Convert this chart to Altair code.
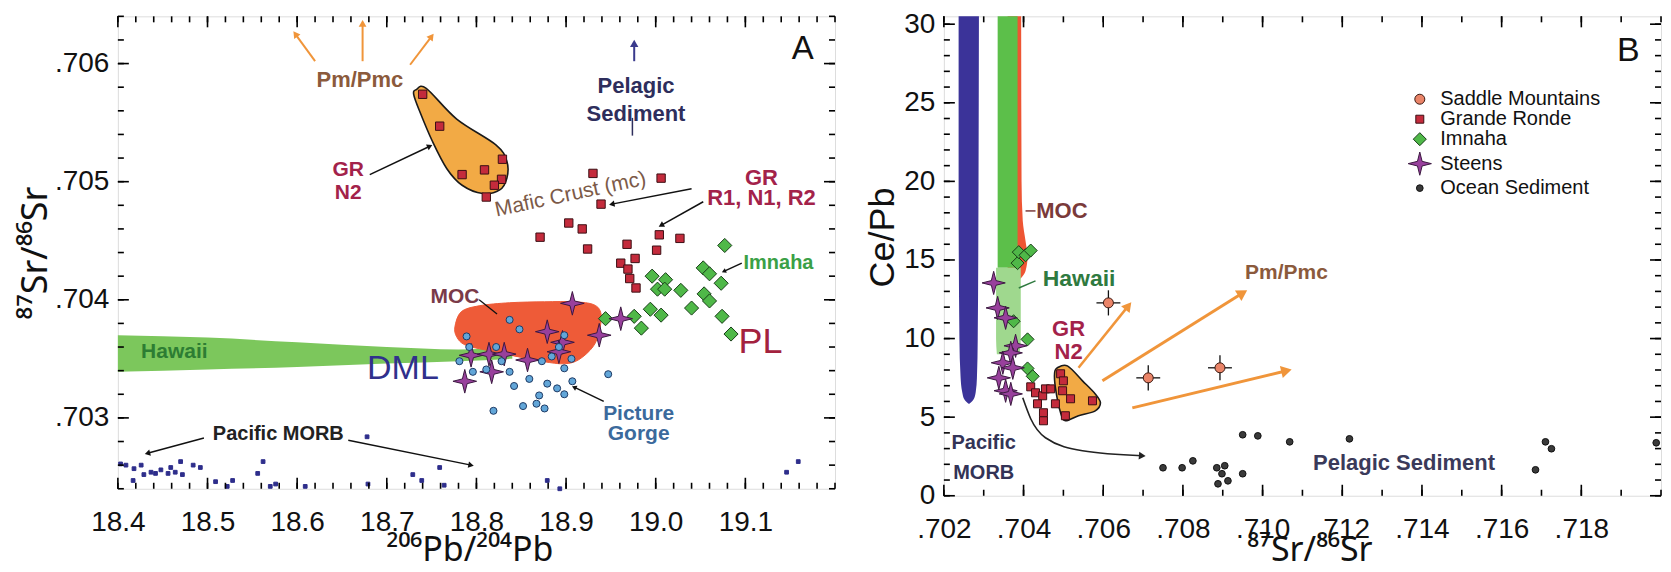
import math
import altair as alt
import pandas as pd

FONT = "Liberation Sans"
SUPFONT = "Noto Sans"
W, HA, HB = 718, 473, 480
AXD, AYD = [18.4, 19.2], [0.7024, 0.7064]
BXD, BYD = [0.702, 0.720], [0.0, 30.5]
STAR = "M0,-1L0.2,-0.2L1,0L0.2,0.2L0,1L-0.2,0.2L-1,0L-0.2,-0.2Z"

# ================= Panel A data =================
grA_x = [18.740, 18.759, 18.829, 18.809, 18.784, 18.828, 18.820, 18.811,
         18.930, 19.006, 18.939, 18.903, 18.918, 18.871, 18.924, 18.968,
         19.004, 19.027, 19.001, 18.961, 18.977, 18.969, 18.971, 18.978]
grA_y = [0.70574, 0.70547, 0.70519, 0.70510, 0.70506, 0.70502, 0.70497, 0.70487,
         0.70507, 0.70503, 0.70481, 0.70465, 0.70460, 0.70453, 0.70443, 0.70447,
         0.70455, 0.70452, 0.70442, 0.70431, 0.70435, 0.70426, 0.70418, 0.70410]
imA_x = [19.077, 19.053, 19.060, 19.073, 18.996, 19.011, 19.002, 19.010, 19.028, 19.054,
         19.060, 19.040, 18.994, 19.006, 18.976, 18.984, 18.944, 19.074, 19.084]
imA_y = [0.70446, 0.70427, 0.70422, 0.70414, 0.70420, 0.70417, 0.70409, 0.70409, 0.70408, 0.70405,
         0.70399, 0.70393, 0.70392, 0.70387, 0.70386, 0.70376, 0.70384, 0.70386, 0.70371]
stA_x = [18.907, 18.879, 18.896, 18.937, 18.961, 18.794, 18.814, 18.831, 18.857, 18.817, 18.787, 18.892]
stA_y = [0.70397, 0.70373, 0.70364, 0.70370, 0.70384, 0.70353, 0.70354, 0.70354, 0.70349, 0.70339, 0.70331, 0.70356]
pgA_x = [18.837, 18.848, 18.789, 18.781, 18.796, 18.811, 18.837, 18.859, 18.873, 18.884,
         18.898, 18.892, 18.906, 18.898, 18.947, 18.842, 18.879, 18.890, 18.898, 18.907,
         18.870, 18.876, 18.852, 18.819, 18.867, 18.792, 18.822, 18.828]
pgA_y = [0.70383, 0.70375, 0.70369, 0.70348, 0.70339, 0.70341, 0.70339, 0.70333, 0.70348, 0.70352,
         0.70370, 0.70360, 0.70350, 0.70342, 0.70337, 0.70327, 0.70329, 0.70325, 0.70320, 0.70331,
         0.70319, 0.70308, 0.70310, 0.70306, 0.70312, 0.70360, 0.70360, 0.70348]
morbA_x = [18.403, 18.409, 18.417, 18.418, 18.426, 18.429, 18.437, 18.442, 18.448, 18.456,
           18.459, 18.464, 18.470, 18.472, 18.484, 18.492, 18.509, 18.522, 18.528, 18.556,
           18.562, 18.570, 18.576, 18.609, 18.678, 18.679, 18.729, 18.739, 18.759, 18.764,
           18.879, 18.893, 19.146, 19.159]
morbA_y = [0.70261, 0.70260, 0.70247, 0.70257, 0.70260, 0.70252, 0.70254, 0.70253, 0.70256, 0.70253,
           0.70258, 0.70254, 0.70263, 0.70252, 0.70260, 0.70258, 0.70246, 0.70242, 0.70247, 0.70253,
           0.70263, 0.70242, 0.70244, 0.70242, 0.70284, 0.70244, 0.70252, 0.70247, 0.70258, 0.70243,
           0.70247, 0.70240, 0.70254, 0.70263]
# Hawaii field (panel A)
hawA_x = [18.40, 18.50, 18.60, 18.70, 18.78, 18.84]
hawA_hi = [0.70370, 0.70368, 0.70364, 0.70360, 0.70358, 0.70360]
hawA_lo = [0.70339, 0.70341, 0.70343, 0.70346, 0.70348, 0.70350]
# MOC field outline (panel A)
mocA_x = [18.776, 18.783, 18.803, 18.837, 18.876, 18.909, 18.931, 18.939, 18.937, 18.930,
          18.914, 18.898, 18.876, 18.853, 18.831, 18.809, 18.787, 18.778]
mocA_y = [0.703771, 0.703898, 0.703949, 0.703975, 0.703983, 0.703983, 0.703958, 0.703881, 0.703729, 0.703602,
          0.703492, 0.703458, 0.703475, 0.703508, 0.703542, 0.703576, 0.703619, 0.703686]
# GR N2 field outline (panel A)
n2A_x = [18.733, 18.744, 18.778, 18.822, 18.834, 18.834, 18.826, 18.807, 18.784, 18.767, 18.751, 18.737, 18.730]
n2A_y = [0.70578, 0.70579, 0.70553, 0.70531, 0.70517, 0.70503, 0.70493, 0.70490, 0.70497, 0.70511, 0.70534, 0.70559, 0.70574]

# ================= Panel B data =================
grB_x = [0.70493, 0.70500, 0.70498, 0.70518, 0.70573, 0.70480, 0.70505, 0.70418, 0.70430, 0.70448,
         0.70455, 0.70468, 0.70435, 0.70450, 0.70450]
grB_y = [7.76, 7.31, 6.68, 6.17, 6.04, 5.85, 5.09, 6.93, 6.55, 6.36, 6.80, 6.80, 5.85, 5.28, 4.77]
imB_x = [0.70385, 0.70388, 0.70405, 0.70418, 0.70375, 0.70410, 0.70410, 0.70423]
imB_y = [14.8, 15.5, 15.3, 15.6, 11.1, 9.95, 8.1, 7.6]
stB_x = [0.70325, 0.70335, 0.70355, 0.70380, 0.70368, 0.70348, 0.70373, 0.70355, 0.70368, 0.70338]
stB_y = [13.54, 11.95, 11.32, 9.54, 9.09, 8.46, 8.14, 6.68, 6.48, 7.50]
smB_x = [0.70613, 0.70713, 0.70893]
smB_y = [12.27, 7.50, 8.14]
smB_xe = [0.0003, 0.0003, 0.0003]
smB_ye = [0.8, 0.8, 0.8]
ocB_x = [0.70750, 0.70798, 0.70825, 0.70885, 0.70905, 0.70898, 0.70888, 0.70913, 0.70950, 0.70950,
         0.70988, 0.71068, 0.71218, 0.71685, 0.71710, 0.71725, 0.71988]
ocB_y = [1.78, 1.78, 2.22, 1.78, 1.91, 1.40, 0.76, 0.95, 1.40, 3.88, 3.81, 3.43, 3.62, 1.65, 3.43, 2.99, 3.37]
# fields (panel B), vertical bands: y, x_lo, x_hi
morbB_y = [30.5, 20.0, 10.0, 7.5, 6.6, 6.1, 5.85]
morbB_lo = [0.70237, 0.70237, 0.70239, 0.70242, 0.70246, 0.70252, 0.70262]
morbB_hi = [0.70288, 0.70287, 0.70285, 0.70283, 0.70280, 0.70274, 0.70264]
mocB_y = [30.5, 20.0, 17.5, 16.2, 15.2, 14.3, 13.8]
mocB_lo = [0.70360, 0.70360, 0.70360, 0.70360, 0.70360, 0.70360, 0.70360]
mocB_hi = [0.70394, 0.70395, 0.70398, 0.70405, 0.70410, 0.70405, 0.70392]
hawB_y = [30.5, 14.5]
hawB_lo = [0.70335, 0.70335]
hawB_hi = [0.70385, 0.70385]
hawB2_y = [14.5, 10.0, 9.0]
hawB2_lo = [0.70331, 0.70331, 0.70333]
hawB2_hi = [0.70393, 0.70393, 0.70390]
n2B_x = [0.70485, 0.70510, 0.70548, 0.70580, 0.70593, 0.70580, 0.70538, 0.70505, 0.70493, 0.70480, 0.70478]
n2B_y = [8.14, 8.26, 7.31, 6.48, 5.91, 5.40, 5.09, 4.77, 5.28, 6.87, 7.82]

# tick values
A_xmaj = [18.4, 18.5, 18.6, 18.7, 18.8, 18.9, 19.0, 19.1]
A_ymaj = [0.703, 0.704, 0.705, 0.706]
B_xmaj = [0.702, 0.704, 0.706, 0.708, 0.710, 0.712, 0.714, 0.716, 0.718]
B_ymaj = [0, 5, 10, 15, 20, 25, 30]


def frange(a, b, step, nd):
    out, v = [], a
    while v <= b + step / 2:
        out.append(round(v, nd))
        v += step
    return out


def sc(d):
    return alt.Scale(domain=d, nice=False, zero=False)


AXBASE = dict(grid=False, domain=False, ticks=False, labelFont=FONT, labelColor="#111",
              titleColor="#111", labelFlush=False, labelOverlap=False, labelFontSize=28,
              titleFontWeight="normal")


def make_panel(xd, yd, w, h, xmaj, ymaj, xexpr, yexpr, xtitle, ytitle, xfont, yfont, xtx, xty, ytx, yty):
    ykw = dict(titleX=ytx, titleBaseline="middle", titleAngle=270)
    if yty is not None:
        ykw["titleY"] = yty
    ax = alt.Axis(orient="bottom", values=xmaj, labelExpr=xexpr, title=xtitle, titleFont=xfont,
                  titleFontSize=34, labelPadding=20, titleX=xtx, titleY=xty, titleBaseline="alphabetic",
                  titleAnchor="middle", **AXBASE)
    ay = alt.Axis(orient="left", values=ymaj, labelExpr=yexpr, title=ytitle, titleFont=yfont,
                  titleFontSize=36, labelPadding=9, **ykw, **AXBASE)
    return dict(xd=xd, yd=yd, w=w, h=h, ax=ax, ay=ay)


def X(f, P):
    return alt.X(f, type="quantitative", scale=sc(P["xd"]), axis=P["ax"])


def Y(f, P):
    return alt.Y(f, type="quantitative", scale=sc(P["yd"]), axis=P["ay"])


def tick_layers(P, xmaj, xmin, ymaj, ymin):
    """Inward frame ticks, drawn as rules in data units through the panel's scales."""
    out = []
    x0, x1 = P["xd"]
    y0, y1 = P["yd"]
    ux = (x1 - x0) / P["w"]
    uy = (y1 - y0) / P["h"]
    for vals, L in ((xmaj, 11), (xmin, 6)):
        df = pd.DataFrame({"v": vals, "b0": [y0] * len(vals), "b1": [y0 + L * uy] * len(vals),
                           "t0": [y1] * len(vals), "t1": [y1 - L * uy] * len(vals)})
        out.append(alt.Chart(df).mark_rule(color="#000000", strokeWidth=1.6, opacity=1).encode(
            x=X("v", P), y=Y("b0", P), y2="b1:Q"))
        out.append(alt.Chart(df).mark_rule(color="#000000", strokeWidth=1.6, opacity=1).encode(
            x=X("v", P), y=Y("t0", P), y2="t1:Q"))
    for vals, L in ((ymaj, 11), (ymin, 6)):
        df = pd.DataFrame({"v": vals, "l0": [x0] * len(vals), "l1": [x0 + L * ux] * len(vals),
                           "r0": [x1] * len(vals), "r1": [x1 - L * ux] * len(vals)})
        out.append(alt.Chart(df).mark_rule(color="#000000", strokeWidth=1.6, opacity=1).encode(
            y=Y("v", P), x=X("l0", P), x2="l1:Q"))
        out.append(alt.Chart(df).mark_rule(color="#000000", strokeWidth=1.6, opacity=1).encode(
            y=Y("v", P), x=X("r0", P), x2="r1:Q"))
    return out


def text_layer(t, x, y, P, color, size, weight="bold", align="center", angle=0, lh=None):
    df = pd.DataFrame({"x": [x], "y": [y], "t": [t]})
    kw = dict(font=FONT, fontSize=size, fontWeight=weight, color=color, align=align,
              baseline="middle", angle=angle, lineBreak="\n")
    if lh is not None:
        kw["lineHeight"] = lh
    return alt.Chart(df).mark_text(**kw).encode(text="t:N", x=X("x", P), y=Y("y", P))


def arrow_layers(xs, ys, P, color, sw, head=True, hsize=40, interp="linear"):
    df = pd.DataFrame({"x": xs, "y": ys, "i": list(range(len(xs)))})
    out = [alt.Chart(df).mark_line(color=color, strokeWidth=sw, interpolate=interp).encode(
        order="i:Q", x=X("x", P), y=Y("y", P))]
    if head:
        sx = P["w"] / (P["xd"][1] - P["xd"][0])
        sy = P["h"] / (P["yd"][1] - P["yd"][0])
        dx = (xs[-1] - xs[-2]) * sx
        dy = -(ys[-1] - ys[-2]) * sy
        ang = math.degrees(math.atan2(dx, -dy)) % 360
        hd = pd.DataFrame({"x": [xs[-1]], "y": [ys[-1]]})
        out.append(alt.Chart(hd).mark_point(shape="triangle-up", filled=True, opacity=1,
                                            color=color, size=hsize, angle=ang).encode(
            x=X("x", P), y=Y("y", P)))
    return out


def poly_layer(xs, ys, P, fill, stroke, sw):
    df = pd.DataFrame({"x": xs, "y": ys, "i": list(range(len(xs)))})
    return alt.Chart(df).mark_line(fill=fill, stroke=stroke, strokeWidth=sw,
                                   interpolate="cardinal-closed").encode(
        order="i:Q", x=X("x", P), y=Y("y", P))


# ================= Panel A =================
PA = make_panel(AXD, AYD, W, HA, A_xmaj, A_ymaj,
                "format(datum.value, '.1f')",
                "replace(format(datum.value, '.3f'), '0.', '.')",
                "²⁰⁶Pb/²⁰⁴Pb", "⁸⁷Sr/⁸⁶Sr", SUPFONT, SUPFONT, 352, 72, -82, None)
LA = []
hawA = pd.DataFrame({"x": hawA_x, "hi": hawA_hi, "lo": hawA_lo})
LA.append(alt.Chart(hawA).mark_area(color="#7cc75c", interpolate="monotone").encode(
    x=X("x", PA), y=Y("hi", PA), y2="lo:Q"))
LA.append(poly_layer(mocA_x, mocA_y, PA, "#ee5b38", "#ee5b38", 1))
LA.append(poly_layer(n2A_x, n2A_y, PA, "#f2aa45", "#1a1a1a", 1.6))

domA = ["Pacific MORB", "Grande Ronde", "Imnaha", "Steens", "Picture Gorge"]
ptsA = pd.DataFrame({
    "x": morbA_x + grA_x + imA_x + stA_x + pgA_x,
    "y": morbA_y + grA_y + imA_y + stA_y + pgA_y,
    "sa": ["Pacific MORB"] * len(morbA_x) + ["Grande Ronde"] * len(grA_x) + ["Imnaha"] * len(imA_x)
          + ["Steens"] * len(stA_x) + ["Picture Gorge"] * len(pgA_x)})
LA.append(alt.Chart(ptsA).mark_point(filled=True, opacity=1, strokeWidth=1).encode(
    fill=alt.Fill("sa:N", scale=alt.Scale(domain=domA, range=["#2e2e8c", "#c42b3c", "#4fb848", "#98409c", "#62a6d8"]), legend=None),
    stroke=alt.Stroke("sa:N", scale=alt.Scale(domain=domA, range=["#2e2e8c", "#3b0f14", "#173d17", "#3b1840", "#1e3a64"]), legend=None),
    shape=alt.Shape("sa:N", scale=alt.Scale(domain=domA, range=["square", "square", "diamond", STAR, "circle"]), legend=None),
    size=alt.Size("sa:N", scale=alt.Scale(type="ordinal", domain=domA, range=[14, 70, 200, 560, 50]), legend=None),
    x=X("x", PA), y=Y("y", PA)))

ORANGE = "#f0953a"
LA += arrow_layers([18.620, 18.598], [0.70602, 0.70625], PA, ORANGE, 2, True, 60)
LA += arrow_layers([18.673, 18.673], [0.70602, 0.70634], PA, ORANGE, 2, True, 60)
LA += arrow_layers([18.726, 18.750], [0.70599, 0.70623], PA, ORANGE, 2, True, 60)
LA += arrow_layers([18.681, 18.748], [0.70506, 0.70530], PA, "#111", 1.5, True, 40)
LA += arrow_layers([18.976, 18.976], [0.70602, 0.70617], PA, "#3a3a8c", 2, True, 70)
LA += arrow_layers([18.974, 18.974], [0.70554, 0.70539], PA, "#2e2e5c", 1.5, False)
LA += arrow_layers([19.040, 18.951], [0.70494, 0.70481], PA, "#111", 1.5, True, 40)
LA += arrow_layers([19.053, 19.006], [0.70483, 0.70463], PA, "#111", 1.5, True, 40)
LA += arrow_layers([19.096, 19.076], [0.70431, 0.70424], PA, "#111", 1.5, True, 25)
LA += arrow_layers([18.803, 18.823], [0.70400, 0.70388], PA, "#111", 1.3, False)
LA += arrow_layers([18.942, 18.909], [0.70314, 0.70326], PA, "#111", 1.5, True, 30)
LA += arrow_layers([18.496, 18.433], [0.70283, 0.70270], PA, "#111", 1.5, True, 40)
LA += arrow_layers([18.657, 18.794], [0.70281, 0.70260], PA, "#111", 1.5, True, 40)

CRIM = "#a3224a"
LA.append(text_layer("Pm/Pmc", 18.670, 0.70586, PA, "#8b5a3c", 22))
LA.append(text_layer("GR\nN2", 18.657, 0.70510, PA, CRIM, 21, lh=23))
LA.append(text_layer("Pelagic\nSediment", 18.978, 0.70581, PA, "#2e2e5c", 22, lh=28))
LA.append(text_layer("Mafic Crust (mc)", 18.905, 0.70489, PA, "#7c5a48", 21, "normal", angle=348))
LA.append(text_layer("GR\nR1, N1, R2", 19.118, 0.70503, PA, CRIM, 22, lh=20))
LA.append(text_layer("Imnaha", 19.098, 0.70431, PA, "#3aa046", 20, align="left"))
LA.append(text_layer("MOC", 18.776, 0.70402, PA, "#7a3a48", 21))
LA.append(text_layer("DML", 18.718, 0.70341, PA, "#30308c", 34, "normal"))
LA.append(text_layer("PL", 19.117, 0.70364, PA, "#a3223e", 36, "normal"))
LA.append(text_layer("Picture\nGorge", 18.981, 0.70303, PA, "#3b6a9c", 21, lh=20))
LA.append(text_layer("Pacific MORB", 18.579, 0.70286, PA, "#222222", 20))
LA.append(text_layer("Hawaii", 18.463, 0.70356, PA, "#2d7d33", 21))
LA.append(text_layer("A", 19.164, 0.70612, PA, "#111111", 33, "normal"))
LA += tick_layers(PA, A_xmaj, frange(18.4, 19.2, 0.02, 2), A_ymaj, frange(0.7024, 0.7064, 0.0002, 4))

panelA = alt.layer(*LA).properties(width=W, height=HA)

# ================= Panel B =================
PB = make_panel(BXD, BYD, W, HB, B_xmaj, B_ymaj,
                "replace(format(datum.value, '.3f'), '0.', '.')",
                "format(datum.value, 'd')",
                "⁸⁷Sr/⁸⁶Sr", "Ce/Pb", SUPFONT, FONT, 366, 65, -61, 221)
LB = []


def vband(ys, lo, hi, color):
    df = pd.DataFrame({"y": ys, "lo": lo, "hi": hi})
    return alt.Chart(df).mark_area(color=color, interpolate="monotone", orient="horizontal").encode(
        y=Y("y", PB), x=X("lo", PB), x2="hi:Q")


LB.append(vband(morbB_y, morbB_lo, morbB_hi, "#3b3399"))
LB.append(vband(mocB_y, mocB_lo, mocB_hi, "#ee5533"))
LB.append(vband(hawB_y, hawB_lo, hawB_hi, "#5cbf4a"))
LB.append(vband(hawB2_y, hawB2_lo, hawB2_hi, "#9fd88e"))
LB.append(poly_layer(n2B_x, n2B_y, PB, "#f2aa45", "#1a1a1a", 1.6))

smdf = pd.DataFrame({"x": smB_x, "y": smB_y,
                     "xl": [a - e for a, e in zip(smB_x, smB_xe)], "xh": [a + e for a, e in zip(smB_x, smB_xe)],
                     "yl": [a - e for a, e in zip(smB_y, smB_ye)], "yh": [a + e for a, e in zip(smB_y, smB_ye)]})
LB.append(alt.Chart(smdf).mark_rule(color="#111", strokeWidth=1.3).encode(
    x=X("xl", PB), x2="xh:Q", y=Y("y", PB)))
LB.append(alt.Chart(smdf).mark_rule(color="#111", strokeWidth=1.3).encode(
    x=X("x", PB), y=Y("yl", PB), y2="yh:Q"))

domB = ["Saddle Mountains", "Grande Ronde", "Imnaha", "Steens", "Ocean Sediment"]
legB = alt.Legend(title=None, orient="none", legendX=464, legendY=73, labelFont=FONT, labelFontSize=20,
                  labelColor="#111", labelLimit=0, rowPadding=0, symbolStrokeWidth=1, labelOffset=8, padding=0)
ptsB = pd.DataFrame({
    "x": ocB_x + grB_x + imB_x + stB_x + smB_x,
    "y": ocB_y + grB_y + imB_y + stB_y + smB_y,
    "sb": ["Ocean Sediment"] * len(ocB_x) + ["Grande Ronde"] * len(grB_x) + ["Imnaha"] * len(imB_x)
          + ["Steens"] * len(stB_x) + ["Saddle Mountains"] * len(smB_x)})
LB.append(alt.Chart(ptsB).mark_point(filled=True, opacity=1, strokeWidth=1).encode(
    fill=alt.Fill("sb:N", scale=alt.Scale(domain=domB, range=["#ea8468", "#c42b3c", "#4fb848", "#98409c", "#3a3a3a"]), legend=legB),
    stroke=alt.Stroke("sb:N", scale=alt.Scale(domain=domB, range=["#3a1a12", "#3b0f14", "#173d17", "#3b1840", "#111111"]), legend=legB),
    shape=alt.Shape("sb:N", scale=alt.Scale(domain=domB, range=["circle", "square", "diamond", STAR, "circle"]), legend=legB),
    size=alt.Size("sb:N", scale=alt.Scale(type="ordinal", domain=domB, range=[100, 64, 170, 540, 45]), legend=legB),
    x=X("x", PB), y=Y("y", PB)))

LB += arrow_layers([0.70538, 0.70663], [8.14, 12.08], PB, ORANGE, 2.5, True, 120)
LB += arrow_layers([0.70598, 0.70950], [7.31, 12.90], PB, ORANGE, 3, True, 150)
LB += arrow_layers([0.70673, 0.71060], [5.59, 7.95], PB, ORANGE, 3, True, 150)
LB += arrow_layers([0.70398, 0.70418, 0.70455, 0.70548, 0.70698], [6.23, 4.90, 3.69, 2.86, 2.54],
                   PB, "#222", 1.6, True, 60, interp="monotone")
LB += arrow_layers([0.70405, 0.70430], [18.12, 18.12], PB, "#7a3a3a", 1.5, False)
LB += arrow_layers([0.70388, 0.70430], [13.22, 13.67], PB, "#2f7a3f", 1.5, False)

LB.append(text_layer("MOC", 0.70432, 18.12, PB, "#7a3a3a", 22, align="left"))
LB.append(text_layer("Hawaii", 0.70448, 13.8, PB, "#2f7a3f", 23, align="left"))
LB.append(text_layer("GR\nN2", 0.70513, 10.6, PB, CRIM, 22, lh=23))
LB.append(text_layer("Pacific\nMORB", 0.70300, 3.37, PB, "#333356", 20, lh=30))
LB.append(text_layer("Pm/Pmc", 0.71060, 14.18, PB, "#8b5a3c", 21))
LB.append(text_layer("Pelagic Sediment", 0.71355, 2.10, PB, "#3a3a5a", 22))
LB.append(text_layer("B", 0.71918, 28.29, PB, "#111111", 34, "normal"))
LB += tick_layers(PB, B_xmaj, frange(0.702, 0.720, 0.001, 3), B_ymaj, list(range(0, 31)))

panelB = alt.layer(*LB).properties(width=W, height=HB)

chart = alt.hconcat(panelA, panelB, spacing=109, bounds="flush").resolve_scale(
    fill="independent", stroke="independent", shape="independent", size="independent"
).properties(
    padding={"left": 9, "top": 1, "right": 0, "bottom": 0}, background="white"
).configure_view(stroke="#111", strokeWidth=1.3).configure(font=FONT)

chart.save("out.html", embed_options={"renderer": "svg", "actions": False})
